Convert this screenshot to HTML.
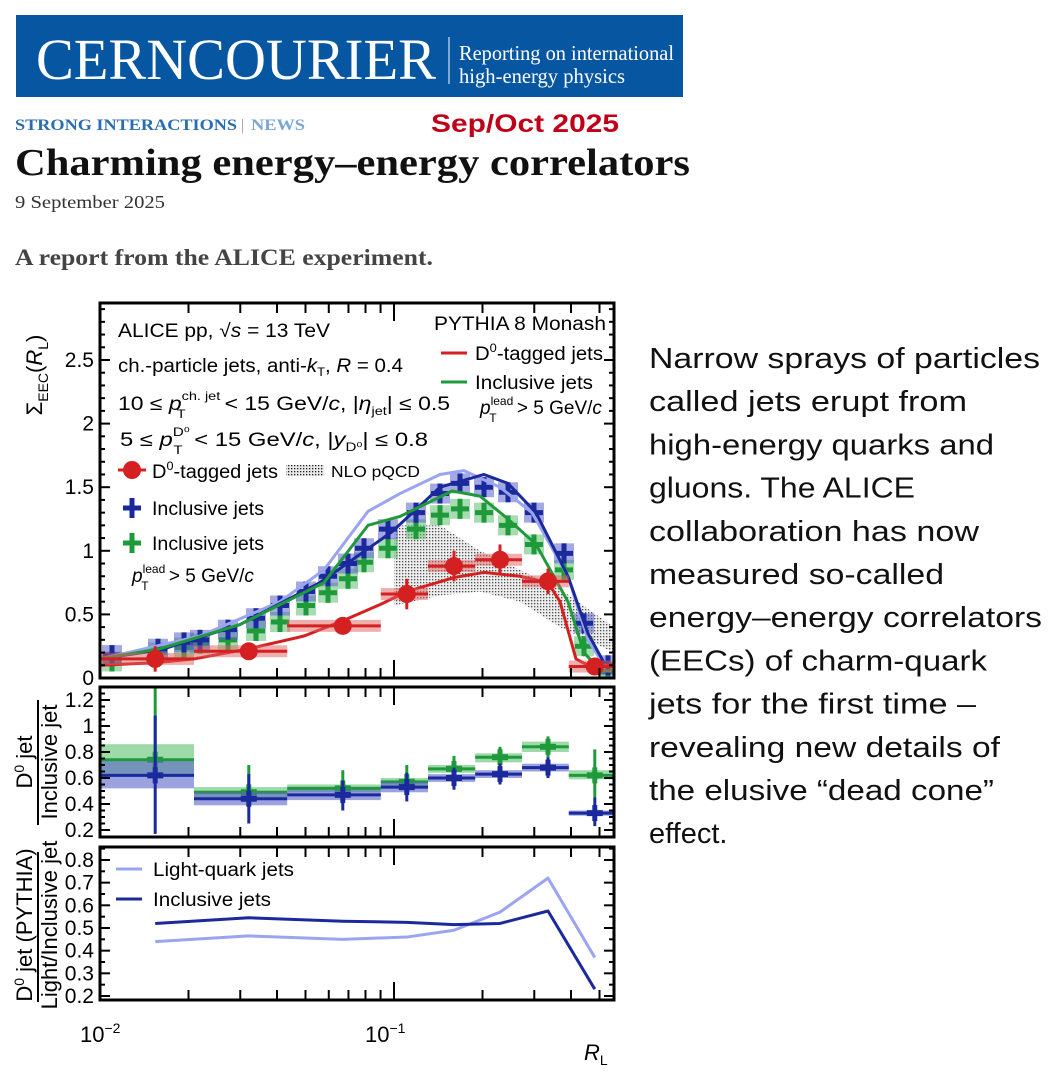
<!DOCTYPE html>
<html><head><meta charset="utf-8"><style>
html,body{margin:0;padding:0;background:#fff;width:1064px;height:1080px;overflow:hidden}
svg{display:block}
</style></head><body>
<svg id="s" width="1064" height="1080" xmlns="http://www.w3.org/2000/svg" font-family="Liberation Sans, sans-serif">
<defs>
<pattern id="dots" width="3" height="3" patternUnits="userSpaceOnUse">
<rect width="3" height="3" fill="#e8e8e8"/><rect width="1.3" height="1.3" fill="#222"/>
</pattern>
</defs>
<rect x="16" y="15" width="667" height="82" fill="#0656a2"/>
<text x="36" y="79" font-family="Liberation Serif, serif" font-size="58" fill="#fff" textLength="400" lengthAdjust="spacingAndGlyphs">CERNCOURIER</text>
<line x1="449" y1="37" x2="449" y2="84" stroke="#fff" stroke-width="1"/>
<text x="459" y="60" font-family="Liberation Serif, serif" font-size="21" fill="#fff" textLength="215" lengthAdjust="spacingAndGlyphs">Reporting on international</text>
<text x="459" y="83" font-family="Liberation Serif, serif" font-size="21" fill="#fff" textLength="166" lengthAdjust="spacingAndGlyphs">high-energy physics</text>
<text x="15" y="130" font-family="Liberation Serif, serif" font-size="16" font-weight="bold" fill="#2a6db0" textLength="222" lengthAdjust="spacingAndGlyphs">STRONG INTERACTIONS</text>
<text x="241" y="130" font-family="Liberation Serif, serif" font-size="16" fill="#999">|</text>
<text x="251" y="130" font-family="Liberation Serif, serif" font-size="16" font-weight="bold" fill="#7aa6d4" textLength="54" lengthAdjust="spacingAndGlyphs">NEWS</text>
<text x="431" y="132" font-size="25" font-weight="bold" fill="#c00018" textLength="188" lengthAdjust="spacingAndGlyphs">Sep/Oct 2025</text>
<text x="15" y="175" font-family="Liberation Serif, serif" font-size="38" font-weight="bold" fill="#111" textLength="675" lengthAdjust="spacingAndGlyphs">Charming energy–energy correlators</text>
<text x="15" y="208" font-family="Liberation Serif, serif" font-size="18" fill="#333" textLength="150" lengthAdjust="spacingAndGlyphs">9 September 2025</text>
<text x="15" y="265" font-family="Liberation Serif, serif" font-size="23" font-weight="bold" fill="#444" textLength="418" lengthAdjust="spacingAndGlyphs">A report from the ALICE experiment.</text>
<g id="rt" font-size="29" fill="#111"></g>
<g id="plot"></g>
</svg>
<script>
var NS="http://www.w3.org/2000/svg";
function el(p,t,a,txt){var e=document.createElementNS(NS,t);for(var k in a)e.setAttribute(k,a[k]);if(txt!=null)e.textContent=txt;p.appendChild(e);return e;}
var rt=document.getElementById('rt');
var lines=["Narrow sprays of particles","called jets erupt from","high-energy quarks and","gluons. The ALICE","collaboration has now","measured so-called","energy–energy correlators","(EECs) of charm-quark","jets for the first time –","revealing new details of","the elusive “dead cone”","effect."];
var lw=[391,318,345,266,330,295,393,338,327,351,345,0];
lines.forEach(function(l,i){var a={x:649,y:368+i*43.2};if(lw[i])a.textLength=lw[i],a.lengthAdjust="spacingAndGlyphs";el(rt,'text',a,l);});
var P=document.getElementById('plot');
var L=100,R=614;
function X(r){return L+294*(Math.log10(r)+2);}
function ZX(z){return L+(z-250)/2.5;}
var Y1=function(v){return 678-127.2*v;};
var Y2=function(v){return 830-130*(v-0.2);};
var Y3=function(v){return 996-226.7*(v-0.2);};
function ticks(top,bot,Y,maj,mnr,lo,hi){
 for(var v=lo;v<=hi+1e-9;v+=mnr){var y=Y(v);if(y<top||y>bot)continue;var isM=Math.abs(v/maj-Math.round(v/maj))<1e-6;var len=isM?10:5;
  el(P,'line',{x1:L,x2:L+len,y1:y,y2:y,stroke:'#000','stroke-width':2});
  el(P,'line',{x1:R-len,x2:R,y1:y,y2:y,stroke:'#000','stroke-width':2});}
 var xs=[];for(var d=-2;d<=-1;d++)for(var m=1;m<=9;m++){var r=m*Math.pow(10,d);var x=X(r);if(x>R-1)continue;xs.push([x,m==1]);}
 xs.forEach(function(q){var len=q[1]?18:10;el(P,'line',{x1:q[0],x2:q[0],y1:bot,y2:bot-len,stroke:'#000','stroke-width':2});el(P,'line',{x1:q[0],x2:q[0],y1:top,y2:top+len,stroke:'#000','stroke-width':2});});
}
function frame(top,bot){el(P,'rect',{x:L,y:top,width:R-L,height:bot-top,fill:'none',stroke:'#000','stroke-width':3});}
function lbl(x,y,t,fs,anchor){return el(P,'text',{x:x,y:y,'font-size':fs||21,'text-anchor':anchor||'end'},t);}
function poly(pts,col,w,op){el(P,'polyline',{points:pts.map(function(p){return p[0]+','+p[1]}).join(' '),fill:'none',stroke:col,'stroke-width':w||3,'stroke-linejoin':'round',opacity:op||1});}
var cp=el(el(P,'defs',{}),'clipPath',{id:'c1'});el(cp,'rect',{x:L,y:303,width:R-L,height:375});
var g1=el(P,'g',{'clip-path':'url(#c1)'});
var up=[[985,1.2],[1100,1.2],[1200,1.0],[1300,0.85],[1400,0.7],[1535,0.4]];
var dn=[[1535,0.2],[1400,0.4],[1300,0.6],[1200,0.68],[1100,0.65],[985,0.57]];
el(g1,'polygon',{points:up.concat(dn).map(function(p){return ZX(p[0])+','+Y1(p[1])}).join(' '),fill:'url(#dots)',opacity:0.8});
var bx=[280,395,460,500,570,640,700,765,820,870,910,970,1040,1100,1150,1210,1270,1335,1410,1460,1520];
var bv=[0.18,0.23,0.28,0.3,0.38,0.47,0.57,0.68,0.8,0.9,1.02,1.17,1.3,1.45,1.53,1.5,1.46,1.3,0.98,0.43,0.1];
var gv=[0.13,0.2,0.24,0.27,0.3,0.37,0.44,0.57,0.67,0.78,0.91,1.02,1.17,1.28,1.33,1.3,1.2,1.05,0.85,0.25,0.05];
function cross(g,x,y,col,boxcol){el(g,'rect',{x:x-10,y:y-10,width:20,height:20,fill:boxcol,opacity:0.55});el(g,'line',{x1:x-9,x2:x+9,y1:y,y2:y,stroke:col,'stroke-width':5});el(g,'line',{x1:x,x2:x,y1:y-10,y2:y+10,stroke:col,'stroke-width':5});}
bx.forEach(function(z,i){cross(g1,ZX(z),Y1(gv[i]),'#1f9a3a','#5cc070');});
bx.forEach(function(z,i){cross(g1,ZX(z),Y1(bv[i]),'#1a2a9c','#5a64c8');});
function zline(g,arr,col,w){el(g,'polyline',{points:arr.map(function(p){return ZX(p[0])+','+Y1(p[1])}).join(' '),fill:'none',stroke:col,'stroke-width':w,'stroke-linejoin':'round'});}
zline(g1,[[250,0.15],[500,0.33],[700,0.6],[810,0.85],[920,1.31],[1000,1.45],[1100,1.6],[1160,1.63],[1250,1.5],[1330,1.3],[1420,0.8],[1470,0.3],[1510,0.1],[1540,0.08]],'#9aa4f0',3);
zline(g1,[[250,0.15],[400,0.22],[600,0.42],[800,0.75],[980,1.15],[1100,1.5],[1210,1.6],[1270,1.53],[1340,1.3],[1420,0.8],[1470,0.35],[1510,0.12],[1540,0.1]],'#1a2a9c',3);
zline(g1,[[250,0.15],[400,0.23],[600,0.42],[810,0.75],[920,1.2],[1000,1.27],[1130,1.47],[1200,1.43],[1270,1.25],[1340,1.05],[1420,0.6],[1460,0.2],[1500,0.06],[1540,0.05]],'#1f9a3a',3);
zline(g1,[[250,0.1],[388,0.12],[485,0.15],[622,0.23],[760,0.33],[857,0.45],[952,0.58],[1017,0.68],[1135,0.79],[1210,0.83],[1300,0.8],[1370,0.75],[1400,0.6],[1440,0.15],[1470,0.1],[1540,0.1]],'#d42020',3);
var edges=[250,485,718,952,1070,1188,1305,1422,1535],cen=[388,622,857,1017,1135,1250,1370,1487];
var rv=[0.15,0.21,0.41,0.66,0.88,0.93,0.76,0.09],re=[0.1,0.06,0.06,0.12,0.12,0.12,0.1,0.05];
cen.forEach(function(c,i){var x=ZX(c),y=Y1(rv[i]),x0=ZX(edges[i]),x1=ZX(edges[i+1]);
 el(g1,'rect',{x:x0,y:y-6,width:x1-x0,height:12,fill:'#e06060',opacity:0.5});
 el(g1,'line',{x1:x0,x2:x1,y1:y,y2:y,stroke:'#d42020','stroke-width':3});
 el(g1,'line',{x1:x,x2:x,y1:Y1(rv[i]+re[i]),y2:Y1(rv[i]-re[i]),stroke:'#d42020','stroke-width':3});
 el(g1,'circle',{cx:x,cy:y,r:9,fill:'#d42020'});});
frame(303,678);ticks(303,678,Y1,0.5,0.1,0,2.9);
['0','0.5','1','1.5','2','2.5'].forEach(function(t,i){lbl(94,Y1(i*0.5)+7,t);});
var yt=el(P,'text',{transform:'translate(42,375) rotate(-90)','font-size':22,'text-anchor':'middle'});yt.innerHTML='Σ<tspan font-size="14" dy="6">EEC</tspan><tspan dy="-6">(</tspan><tspan font-style="italic">R</tspan><tspan font-size="14" dy="6">L</tspan><tspan dy="-6">)</tspan>';
function rich(x,y,h,fs,tl){var a={x:x,y:y,'font-size':fs||19};if(tl){a.textLength=tl;a.lengthAdjust='spacingAndGlyphs';}var t=el(P,'text',a);t.innerHTML=h;return t;}
rich(118,337,'ALICE pp,   √<tspan font-style="italic">s</tspan> = 13 TeV',19,212);
rich(118,372,'ch.-particle jets, anti-<tspan font-style="italic">k</tspan><tspan font-size="12" dy="4">T</tspan><tspan dy="-4">,   </tspan><tspan font-style="italic">R</tspan> = 0.4',19,285);
rich(118,410,'10  ≤  <tspan font-style="italic">p</tspan><tspan font-size="12" dy="-10">ch. jet</tspan><tspan font-size="12" dx="-36" dy="18">T</tspan><tspan dy="-8" dx="27"> &lt; 15 GeV/</tspan><tspan font-style="italic">c</tspan>,  |<tspan font-style="italic">η</tspan><tspan font-size="12" dy="5">jet</tspan><tspan dy="-5">|  ≤ 0.5</tspan>',19,332);
rich(120,446,'5  ≤  <tspan font-style="italic">p</tspan><tspan font-size="12" dy="-10">D⁰</tspan><tspan font-size="12" dx="-13" dy="18">T</tspan><tspan dy="-8" dx="4"> &lt; 15 GeV/</tspan><tspan font-style="italic">c</tspan>,  |<tspan font-style="italic">y</tspan><tspan font-size="12" dy="5">D⁰</tspan><tspan dy="-5">|  ≤ 0.8</tspan>',19,308);
rich(434,330,'PYTHIA 8 Monash',19,172);
el(P,'line',{x1:441,x2:467,y1:353,y2:353,stroke:'#d42020','stroke-width':3});rich(475,360,'D<tspan font-size="12" dy="-8">0</tspan><tspan dy="8">-tagged jets</tspan>',19,128);
el(P,'line',{x1:441,x2:467,y1:382,y2:382,stroke:'#1f9a3a','stroke-width':3});rich(475,389,'Inclusive jets',19,118);
rich(480,414,'<tspan font-style="italic">p</tspan><tspan font-size="12" dy="-9">lead</tspan><tspan font-size="12" dx="-24" dy="17">T</tspan><tspan dy="-8" dx="15"> &gt; 5 GeV/</tspan><tspan font-style="italic">c</tspan>',19);
el(P,'line',{x1:118,x2:146,y1:470,y2:470,stroke:'#d42020','stroke-width':3});el(P,'circle',{cx:132,cy:470,r:9,fill:'#d42020'});
rich(152,478,'D<tspan font-size="12" dy="-8">0</tspan><tspan dy="8">-tagged jets</tspan>',19,126);
el(P,'rect',{x:286,y:465,width:38,height:11,fill:'url(#dots)'});rich(331,477,'NLO pQCD',16,89);
cross(P,132,508,'#1a2a9c','#ffffff');rich(152,515,'Inclusive jets',19,112);
cross(P,132,543,'#1f9a3a','#ffffff');rich(152,550,'Inclusive jets',19,112);
rich(132,582,'<tspan font-style="italic">p</tspan><tspan font-size="12" dy="-9">lead</tspan><tspan font-size="12" dx="-24" dy="17">T</tspan><tspan dy="-8" dx="15"> &gt; 5 GeV/</tspan><tspan font-style="italic">c</tspan>',19);
var cp2=el(P.querySelector('defs'),'clipPath',{id:'c2'});el(cp2,'rect',{x:L,y:687,width:R-L,height:150});
var g2=el(P,'g',{'clip-path':'url(#c2)'});
var mg=[[0.74,0.6,1.3,0.63,0.86],[0.49,0.4,0.7,0.45,0.53],[0.52,0.4,0.66,0.49,0.55],[0.57,0.47,0.7,0.54,0.6],[0.67,0.58,0.77,0.64,0.7],[0.76,0.67,0.84,0.72,0.79],[0.84,0.76,0.92,0.8,0.88],[0.62,0.45,0.82,0.59,0.66]];
var mb=[[0.62,0.17,1.08,0.52,0.73],[0.44,0.25,0.63,0.39,0.49],[0.47,0.35,0.58,0.43,0.51],[0.53,0.42,0.64,0.49,0.57],[0.6,0.51,0.68,0.57,0.63],[0.63,0.55,0.71,0.6,0.66],[0.68,0.6,0.76,0.65,0.71],[0.33,0.23,0.45,0.31,0.35]];
function mset(d,col,bc){d.forEach(function(q,i){var x0=ZX(edges[i]),x1=ZX(edges[i+1]),x=ZX(cen[i]);
 el(g2,'rect',{x:x0,y:Y2(q[4]),width:x1-x0,height:Y2(q[3])-Y2(q[4]),fill:bc,opacity:0.6});
 el(g2,'line',{x1:x0,x2:x1,y1:Y2(q[0]),y2:Y2(q[0]),stroke:col,'stroke-width':3});
 el(g2,'line',{x1:x,x2:x,y1:Y2(q[2]),y2:Y2(q[1]),stroke:col,'stroke-width':3});
 el(g2,'line',{x1:x-8,x2:x+8,y1:Y2(q[0]),y2:Y2(q[0]),stroke:col,'stroke-width':6});
 el(g2,'line',{x1:x,x2:x,y1:Y2(q[0])-8,y2:Y2(q[0])+8,stroke:col,'stroke-width':5});});}
mset(mg,'#1f9a3a','#5cc070');mset(mb,'#1a2a9c','#5a64c8');
frame(687,837);ticks(687,837,Y2,0.2,0.05,0.15,1.3);
['0.2','0.4','0.6','0.8','1','1.2'].forEach(function(t,i){lbl(94,Y2(0.2+i*0.2)+7,t);});
var t2=el(P,'text',{transform:'translate(32,762) rotate(-90)','font-size':22,'text-anchor':'middle'});t2.innerHTML='D<tspan font-size="14" dy="-8">0</tspan><tspan dy="8"> jet</tspan>';
el(P,'line',{x1:38,x2:38,y1:700,y2:825,stroke:'#000','stroke-width':2});
el(P,'text',{transform:'translate(57,762) rotate(-90)','font-size':22,'text-anchor':'middle'},'Inclusive jet');
var lq=[0.44,0.465,0.45,0.46,0.49,0.57,0.72,0.37],ij=[0.52,0.545,0.53,0.525,0.515,0.52,0.575,0.23];
poly(cen.map(function(c,i){return [ZX(c),Y3(lq[i])]}),'#9aa4f0',3);
poly(cen.map(function(c,i){return [ZX(c),Y3(ij[i])]}),'#1a2a9c',3);
frame(847,1000);ticks(847,1000,Y3,0.1,0.05,0.2,0.85);
['0.2','0.3','0.4','0.5','0.6','0.7','0.8'].forEach(function(t,i){lbl(94,Y3(0.2+i*0.1)+7,t);});
el(P,'line',{x1:116,x2:142,y1:869,y2:869,stroke:'#9aa4f0','stroke-width':3});rich(153,876,'Light-quark jets',19,141);
el(P,'line',{x1:116,x2:142,y1:899,y2:899,stroke:'#1a2a9c','stroke-width':3});rich(153,906,'Inclusive jets',19,118);
var t3=el(P,'text',{transform:'translate(32,925) rotate(-90)','font-size':22,'text-anchor':'middle'});t3.innerHTML='D<tspan font-size="14" dy="-8">0</tspan><tspan dy="8"> jet (PYTHIA)</tspan>';
el(P,'line',{x1:38,x2:38,y1:852,y2:1002,stroke:'#000','stroke-width':2});
el(P,'text',{transform:'translate(57,925) rotate(-90)','font-size':22,'text-anchor':'middle'},'Light/Inclusive jet');
rich(80,1042,'10<tspan font-size="14" dy="-9">−2</tspan>',22);
rich(365,1042,'10<tspan font-size="14" dy="-9">−1</tspan>',22);
rich(584,1060,'<tspan font-style="italic">R</tspan><tspan font-size="14" dy="5">L</tspan>',22);
</script>
</body></html>
